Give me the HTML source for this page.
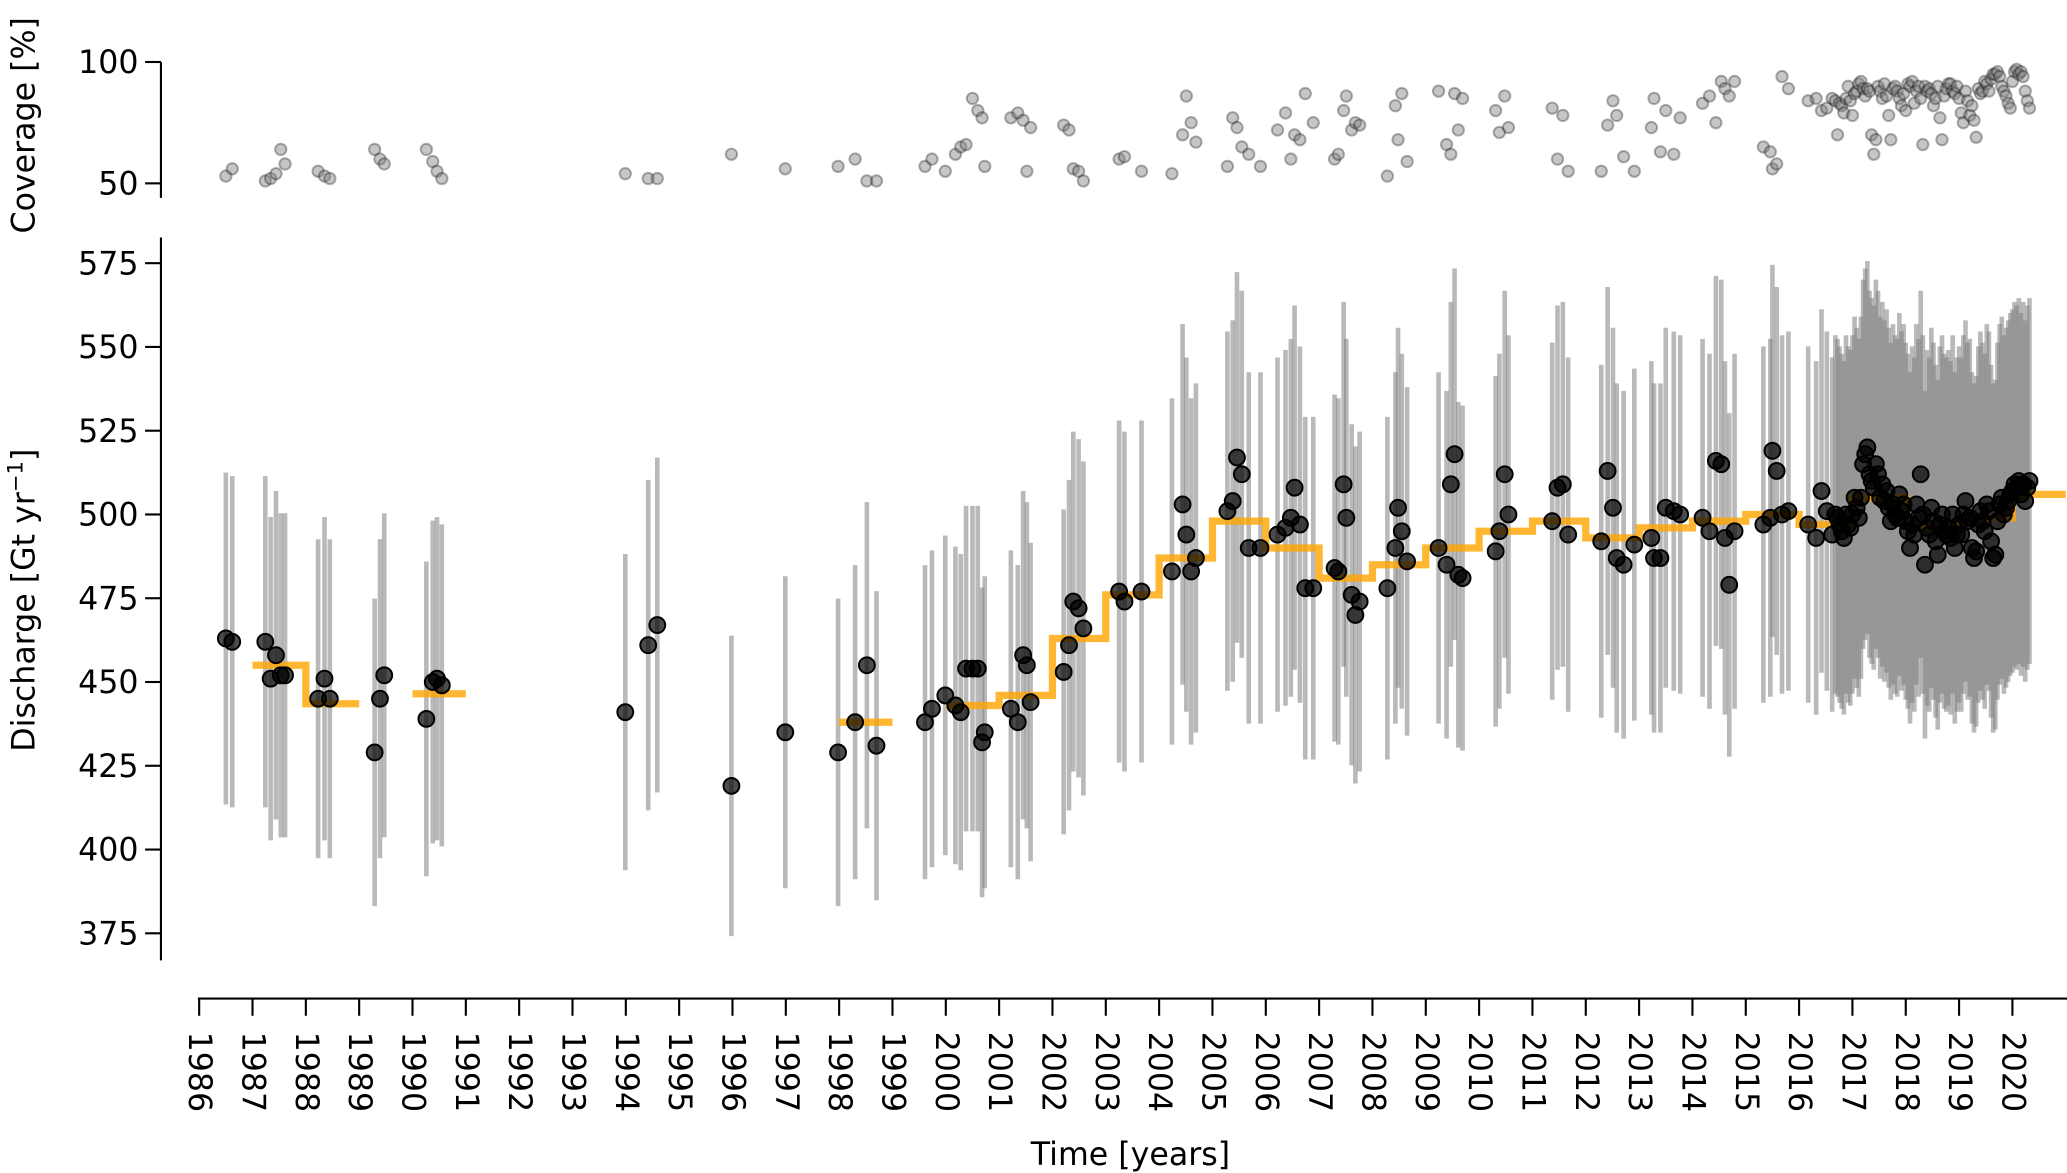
<!DOCTYPE html>
<html><head><meta charset="utf-8"><style>
html,body{margin:0;padding:0;background:#fff;}
svg{display:block;}
text{font-family:"DejaVu Sans","Liberation Sans",sans-serif;fill:#000;}
</style></head><body>
<svg id="chart" width="2067" height="1173" viewBox="0 0 1567 889.2" preserveAspectRatio="none" xmlns="http://www.w3.org/2000/svg">
<g id="cov-axis"></g>
<g id="cov-pts"></g>
<g id="bars"></g>
<g id="steps"></g>
<g id="pts"></g>
<g id="q-axis"></g>
<g id="x-axis"></g>
<text transform="translate(26,95) rotate(-90)" text-anchor="middle" font-size="24">Coverage [%]</text>
<text transform="translate(26,455) rotate(-90)" text-anchor="middle" font-size="24">Discharge [Gt yr<tspan font-size="16" dy="-9">−1</tspan><tspan dy="9">]</tspan></text>
<text x="857" y="883" text-anchor="middle" font-size="24">Time [years]</text>
</svg>
<script>
// ---- data ----
const times = [1986.50,1986.62,1987.24,1987.34,1987.44,1987.53,1987.61,1988.23,1988.35,1988.45,1989.29,1989.39,1989.47,1990.26,1990.38,1990.46,1990.55,
1993.99,1994.42,1994.59,1995.98,1996.99,1997.98,1998.30,1998.52,1998.70,1999.61,1999.74,
1999.99,2000.18,2000.28,2000.38,2000.50,2000.60,2000.68,2000.73,2001.22,2001.35,2001.45,2001.52,2001.59,
2002.21,2002.31,2002.39,2002.49,2002.58,2003.25,2003.35,2003.67,2004.24,2004.44,2004.51,2004.60,2004.69,
2005.28,2005.38,2005.46,2005.55,2005.68,2005.90,2006.22,2006.37,2006.47,2006.54,2006.64,2006.74,
2006.89,2007.29,2007.36,2007.46,2007.51,2007.61,2007.68,2007.76,2008.28,2008.43,2008.48,2008.55,2008.65,
2009.24,2009.39,2009.47,2009.54,2009.61,2009.69,2010.31,2010.38,2010.48,2010.55,2011.37,2011.47,2011.57,2011.67,
2012.29,2012.41,2012.51,2012.58,2012.71,2012.91,2013.23,2013.28,2013.40,2013.50,2013.65,2013.77,
2014.19,2014.32,2014.44,2014.54,2014.61,2014.69,2014.79,2015.33,2015.46,2015.50,2015.58,2015.68,2015.80,
2016.17,2016.32,2016.42,2016.52,2016.62,2016.68,2016.72,2016.76,2016.80,2016.84,2016.88,2016.92,2016.96,
2017.00,2017.04,2017.08,2017.12,2017.16,2017.20,2017.24,2017.28,2017.32,2017.36,2017.40,2017.44,2017.48,2017.52,2017.56,2017.60,2017.64,2017.68,2017.72,2017.76,2017.80,2017.84,2017.88,2017.92,2017.96,
2018.00,2018.04,2018.08,2018.12,2018.16,2018.20,2018.24,2018.28,2018.32,2018.36,2018.40,2018.44,2018.48,2018.52,2018.56,2018.60,2018.64,2018.68,2018.72,2018.76,2018.80,2018.84,2018.88,2018.92,2018.96,
2019.00,2019.04,2019.08,2019.12,2019.16,2019.20,2019.24,2019.28,2019.32,2019.36,2019.40,2019.44,2019.48,2019.52,2019.56,2019.60,2019.64,2019.68,2019.72,2019.76,2019.80,2019.84,2019.88,2019.92,2019.96,
2020.00,2020.04,2020.08,2020.12,2020.16,2020.20,2020.24,2020.28,2020.32];
const discharge = [463,462,462,451,458,452,452,445,451,445,429,445,452,439,450,451,449,
441,461,467,419,435,429,438,455,431,438,442,
446,443,441,454,454,454,432,435,442,438,458,455,444,
453,461,474,472,466,477,474,477,483,503,494,483,487,
501,504,517,512,490,490,494,496,499,508,497,478,
478,484,483,509,499,476,470,474,478,490,502,495,486,
490,485,509,518,482,481,489,495,512,500,498,508,509,494,
492,513,502,487,485,491,493,487,487,502,501,500,
499,495,516,515,493,479,495,497,499,519,513,500,501,
497,493,507,501,494,500,499,497,495,493,500,497,496,
500,505,502,499,505,515,518,520,512,510,508,515,512,505,509,504,507,502,498,503,500,499,506,501,503,
498,495,490,497,494,503,499,512,500,485,496,494,502,498,492,488,497,500,495,494,496,493,500,490,494,
497,494,500,504,498,499,490,487,489,497,501,498,495,503,501,492,487,488,498,503,505,500,502,504,506,
507,509,508,510,506,509,504,508,510];
const coverage = [53,56,51,52,54,64,58,55,53,52,64,60,58,64,59,55,52,
54,52,52,62,56,57,60,51,51,57,60,
55,62,65,66,85,80,77,57,77,79,76,55,73,
74,72,56,55,51,60,61,55,54,70,86,75,67,
57,77,73,65,62,57,72,79,60,70,68,87,
75,60,62,80,86,72,75,74,53,82,68,87,59,
88,66,62,87,72,85,80,71,86,73,81,60,78,55,
55,74,84,78,61,55,73,85,63,80,62,77,
83,86,75,92,89,86,92,65,63,56,58,94,89,
84,85,80,81,85,84,70,83,82,79,85,90,84,
78,87,88,91,92,89,86,89,88,70,62,68,90,88,85,91,86,78,68,89,90,88,85,82,87,
80,91,90,92,83,88,90,85,66,90,88,89,87,82,85,90,77,68,86,89,91,91,88,87,90,
85,79,75,88,84,78,82,76,69,89,87,88,92,91,88,93,95,95,96,94,90,88,86,83,81,
92,96,97,95,96,94,88,84,81];
const stepYears = [1987,1988,1990,1998,2000,2001,2002,2003,2004,2005,2006,2007,2008,2009,2010,2011,2012,2013,2014,2015,2016,2017,2018,2019,2020];
const stepValues = [455,443.5,446.5,438,443,446,463,476,487,498,490,481,485,490,495,498,493,496,498,500,497,505,496,499,506];
const xTickLabels = [1986,1987,1988,1989,1990,1991,1992,1993,1994,1995,1996,1997,1998,1999,2000,2001,2002,2003,2004,2005,2006,2007,2008,2009,2010,2011,2012,2013,2014,2015,2016,2017,2018,2019,2020];
const qTicks = [375,400,425,450,475,500,525,550,575];
const covTicks = [50,100];

// ---- scales (display units) ----
const X = y => 151 + (y - 1986) * 40.43;
const Yq = v => 390 - (v - 500) * (63.5/25);
const Yc = c => 139 - (c - 50) * (92/50);
const NS = 'http://www.w3.org/2000/svg';
function mk(tag, attrs, parent){const e=document.createElementNS(NS,tag);for(const k in attrs)e.setAttribute(k,attrs[k]);parent.appendChild(e);return e;}
const N = Math.min(times.length, discharge.length, coverage.length);

// coverage axis
const ca = document.getElementById('cov-axis');
let s = mk('line',{x1:122,y1:Yc(100),x2:122,y2:150,stroke:'#000','stroke-width':1.6},ca);


covTicks.forEach(c=>{
  const l=mk('line',{x1:110,x2:122,y1:Yc(c),y2:Yc(c),stroke:'#000','stroke-width':1.6},ca);
  
  
  const t=mk('text',{x:105,y:Yc(c)+8.5,'text-anchor':'end','font-size':24},ca);
  t.textContent=c;
  
  
});
// coverage points
const cp = document.getElementById('cov-pts');
for(let i=0;i<N;i++){
  const c=mk('circle',{cx:X(times[i]),cy:Yc(coverage[i]),r:4.3,fill:'rgba(128,128,128,0.45)',stroke:'rgba(0,0,0,0.3)','stroke-width':1.5},cp);
  
  
}
// error bars
const bg = document.getElementById('bars');
for(let i=0;i<N;i++){
  const v=discharge[i], e=v*0.107;
  const l=mk('line',{x1:X(times[i]),x2:X(times[i]),y1:Yq(v+e),y2:Yq(v-e),stroke:'rgba(128,128,128,0.55)','stroke-width':3.5},bg);
  
  
}
// step line
const sg = document.getElementById('steps');
let d='';
stepYears.forEach((y,i)=>{
  const cont = i>0 && stepYears[i-1]===y-1;
  d += (cont?' L':' M') + X(y) + ' ' + Yq(stepValues[i]) + ' L' + X(y+1) + ' ' + Yq(stepValues[i]);
});
s = mk('path',{d:d,fill:'none',stroke:'rgba(255,165,0,0.8)','stroke-width':5.5},sg);


// discharge points
const pg = document.getElementById('pts');
for(let i=0;i<N;i++){
  const c=mk('circle',{cx:X(times[i]),cy:Yq(discharge[i]),r:6,fill:'rgba(0,0,0,0.7)',stroke:'#000','stroke-width':1.5},pg);
  
  
}
// discharge axis
const qa = document.getElementById('q-axis');
s = mk('line',{x1:122,y1:180,x2:122,y2:728,stroke:'#000','stroke-width':1.6},qa);


qTicks.forEach(v=>{
  const l=mk('line',{x1:110,x2:122,y1:Yq(v),y2:Yq(v),stroke:'#000','stroke-width':1.6},qa);
  
  
  const t=mk('text',{x:105,y:Yq(v)+8.5,'text-anchor':'end','font-size':24},qa);
  t.textContent=v;
  
  
});
// x axis
const xa = document.getElementById('x-axis');
s = mk('line',{x1:150,y1:757,x2:1567,y2:757,stroke:'#000','stroke-width':1.6},xa);


xTickLabels.forEach(y=>{
  const x=X(y);
  const l=mk('line',{x1:x,x2:x,y1:757,y2:770,stroke:'#000','stroke-width':1.6},xa);
  
  
  const t=mk('text',{x:0,y:0,'font-size':24,'dominant-baseline':'central',transform:'translate('+x+',782) rotate(90)'},xa);
  t.textContent=y;
  
  
});
</script>
</body></html>
